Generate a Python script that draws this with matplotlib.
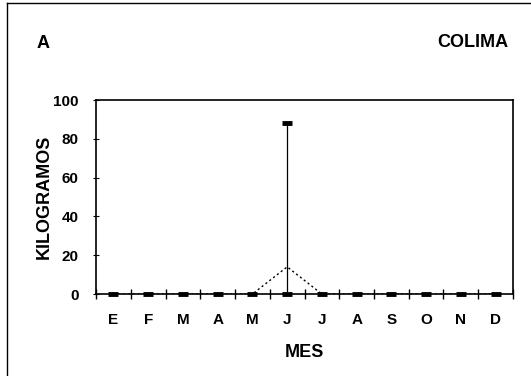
import numpy as np
import matplotlib
matplotlib.use("Agg")
import matplotlib.pyplot as plt
from matplotlib.lines import Line2D

# ---------------------------------------------------------------------------
# Data
# ---------------------------------------------------------------------------
MONTHS = ["E", "F", "M", "A", "M", "J", "J", "A", "S", "O", "N", "D"]
mean_kg = [0, 0, 0, 0, 0, 14, 0, 0, 0, 0, 0, 0]
min_kg = [0, 0, 0, 0, 0, 0, 0, 0, 0, 0, 0, 0]
max_kg = [0, 0, 0, 0, 0, 88, 0, 0, 0, 0, 0, 0]
Y_TICKS = [0, 20, 40, 60, 80, 100]

plt.rcParams["font.family"] = ["Liberation Sans", "DejaVu Sans"]
plt.rcParams["font.weight"] = "bold"

fig = plt.figure(figsize=(5.31, 3.76), dpi=100, facecolor="white")
ax = fig.add_axes([0.181, 0.218, 0.785, 0.516])

x = np.arange(len(MONTHS))
mx = np.array(max_kg)

# range bars (min -> max)
ax.vlines(x, min_kg, max_kg, color="black", lw=0.9, zorder=3)
ax.plot(x, min_kg, ls="none", marker="_", ms=7, mew=3.5, color="black",
        zorder=4, clip_on=False)
ax.plot(x[mx > 0], mx[mx > 0], ls="none", marker="_", ms=7, mew=3.5,
        color="black", zorder=4)

# mean, dotted
ax.plot(x, mean_kg, color="black", lw=1.0, ls=(0, (1.5, 2)), zorder=2)

ax.set_xlim(-0.5, len(MONTHS) - 0.5)
ax.set_ylim(0, 100)

ax.set_xticks(x)
ax.set_xticklabels(MONTHS, fontsize=11, fontweight="bold")
ax.set_xticks(np.arange(-0.5, len(MONTHS)), minor=True)
ax.tick_params(axis="x", which="major", length=0, pad=14)
ax.tick_params(axis="x", which="minor", direction="inout", length=7, width=1)

ax.set_yticks(Y_TICKS)
ax.set_yticklabels([str(v) for v in Y_TICKS], fontsize=11, fontweight="bold")
ax.tick_params(axis="y", direction="inout", length=5, width=0.8, pad=10)

for sp in ax.spines.values():
    sp.set_color("black")
    sp.set_linewidth(1.2)

ax.set_xlabel("MES", fontsize=13, fontweight="bold", labelpad=12)
ax.set_ylabel("KILOGRAMOS", fontsize=13, fontweight="bold")
ax.yaxis.set_label_coords(-0.103, 0.5)

fig.text(0.068, 0.885, "A", fontsize=13, fontweight="bold", ha="left", va="center")
fig.text(0.958, 0.888, "COLIMA", fontsize=13, fontweight="bold", ha="right", va="center")

# scanned page frame (left and top edges)
fig.add_artist(Line2D([0.014, 0.014], [0.0, 0.992], color="black", lw=1.0,
                      transform=fig.transFigure))
fig.add_artist(Line2D([0.014, 1.0], [0.992, 0.992], color="black", lw=1.0,
                      transform=fig.transFigure))

fig.savefig("out.png", dpi=100, facecolor="white")
plt.close(fig)
